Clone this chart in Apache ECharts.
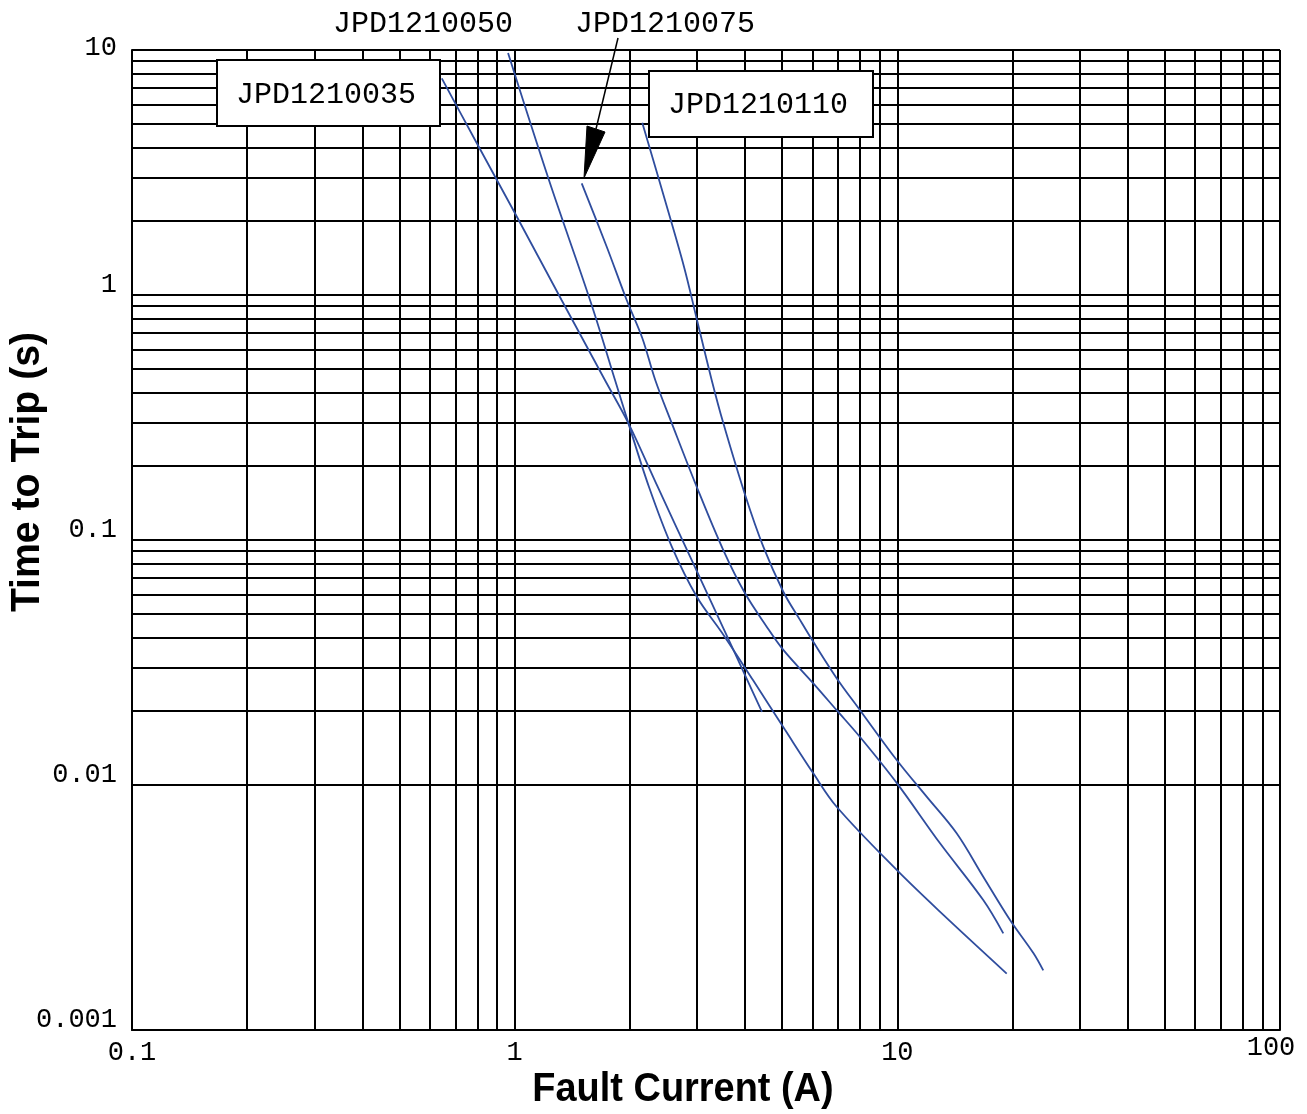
<!DOCTYPE html>
<html>
<head>
<meta charset="utf-8">
<script src="https://cdn.jsdelivr.net/npm/echarts@6/dist/echarts.min.js"></script>
<style>
html,body{margin:0;padding:0;background:#fff;}
#chart{width:1307px;height:1114px;}
</style>
</head>
<body>
<div id="chart"></div>
<script>
// ---- tick labels ----
const xTickLabels = ['0.1', '1', '10', '100'];
const yTickLabels = ['0.001', '0.01', '0.1', '1', '10'];
// ---- grid decades & minor multipliers ----
const xDecades = [0.1, 1, 10, 100];
const yDecades = [0.001, 0.01, 0.1, 1, 10];
const gridMultipliers = [1, 2, 3, 4, 5, 6, 7, 8, 9];

// ---- curve names ----
const curveNames = ['JPD1210035', 'JPD1210050', 'JPD1210075', 'JPD1210110'];

// ---- series values: current (A) vs time to trip (s) ----
const current035 = [0.645, 0.788, 1.006, 1.326, 1.496, 1.721, 1.982, 2.364, 2.900, 3.497, 4.055, 4.429];
const time035    = [7.66, 4.29, 2.13, 0.954, 0.674, 0.450, 0.300, 0.165, 0.0829, 0.0442, 0.0268, 0.0199];

const current050 = [0.961, 1.229, 1.583, 1.829, 1.982, 2.244, 2.577, 2.995, 3.482, 4.195, 5.087, 6.031, 6.941, 9.961, 13.19, 19.31];
const time050    = [9.72, 2.947, 0.928, 0.450, 0.300, 0.1646, 0.0936, 0.0585, 0.0418, 0.0268, 0.0168, 0.01116, 0.00815, 0.00450, 0.00295, 0.00170];

const current075 = [1.497, 1.740, 1.962, 2.155, 2.330, 2.573, 2.990, 3.509, 4.000, 4.556, 5.035, 6.031, 6.941, 7.989, 9.961, 12.93, 16.77, 18.92];
const time075    = [2.856, 1.574, 0.954, 0.668, 0.450, 0.300, 0.165, 0.0910, 0.0606, 0.0443, 0.0356, 0.0260, 0.0202, 0.0157, 0.0102, 0.00578, 0.00339, 0.00248];

const current110 = [2.155, 2.470, 2.770, 2.990, 3.272, 3.509, 4.000, 4.464, 5.035, 5.566, 6.031, 6.941, 7.989, 9.961, 11.93, 14.29, 16.77, 19.70, 22.67, 24.06];
const time110    = [5.05, 2.442, 1.305, 0.800, 0.450, 0.300, 0.153, 0.0939, 0.0615, 0.0472, 0.0384, 0.0273, 0.0202, 0.01265, 0.00896, 0.00635, 0.00422, 0.00281, 0.00206, 0.00175];

const curveCurrents = [current035, current050, current075, current110];
const curveTimes = [time035, time050, time075, time110];

const chart = echarts.init(document.getElementById('chart'), null, {renderer: 'canvas'});

function gridValues(decades) {
  const out = [];
  decades.forEach((d, i) => {
    if (i === decades.length - 1) { out.push(d); return; }
    gridMultipliers.forEach(m => out.push(d * m));
  });
  return out;
}

const gridLineData = [
  ...gridValues(xDecades).map(v => ({xAxis: v})),
  ...gridValues(yDecades).map(v => ({yAxis: v}))
];

const tickFont = 'Liberation Mono';
const labelFont = '30px "Liberation Mono"';
const titleFontY = 'bold 40px "Liberation Sans"';
const titleFontX = 'bold 41px "Liberation Sans"';

const curveSeries = curveNames.map((name, i) => ({
  name: name,
  type: 'line',
  data: curveCurrents[i].map((c, k) => [c, curveTimes[i][k]]),
  showSymbol: false,
  smooth: 0.35,
  z: 5,
  lineStyle: {color: '#2f4d9e', width: 1.8},
  animation: false
}));

const option = {
  backgroundColor: '#ffffff',
  animation: false,
  grid: {left: 132, top: 50, right: 27, bottom: 84, containLabel: false, outerBoundsMode: 'none'},
  xAxis: {
    type: 'log', logBase: 10, min: 0.1, max: 100,
    axisLine: {show: true, lineStyle: {color: '#000', width: 2}},
    axisTick: {show: false},
    splitLine: {show: false},
    axisLabel: {
      color: '#000', fontFamily: tickFont, fontSize: 27, margin: 9,
      formatter: v => {
        const i = Math.round(Math.log10(v)) + 1;
        const s = xTickLabels[i];
        return i === xTickLabels.length - 1 ? '{hi|' + s + '}' : s;
      },
      rich: {hi: {lineHeight: 17, padding: [0, 18, 0, 0]}}
    }
  },
  yAxis: {
    type: 'log', logBase: 10, min: 0.001, max: 10,
    axisLine: {show: true, lineStyle: {color: '#000', width: 2}},
    axisTick: {show: false},
    splitLine: {show: false},
    axisLabel: {
      color: '#000', fontFamily: tickFont, fontSize: 27, margin: 15,
      verticalAlign: 'bottom', lineHeight: 20,
      formatter: v => {
        const i = Math.round(Math.log10(v)) + 3;
        const s = yTickLabels[i];
        return i === yTickLabels.length - 1 ? '{lo|' + s + '}' : s;
      },
      rich: {lo: {lineHeight: 4}}
    }
  },
  series: [
    {
      name: 'grid',
      type: 'line',
      data: [],
      z: 1,
      silent: true,
      markLine: {
        silent: true,
        symbol: ['none', 'none'],
        label: {show: false},
        lineStyle: {color: '#000', width: 2, type: 'solid'},
        emphasis: {disabled: true},
        animation: false,
        data: gridLineData
      }
    },
    ...curveSeries
  ],
  graphic: [
    {type: 'text', x: 28, y: 472, rotation: Math.PI / 2, scaleX: 0.98, z: 100,
     style: {text: 'Time to Trip (s)', font: titleFontY, fill: '#000', align: 'center', verticalAlign: 'middle'}},
    {type: 'text', x: 683, y: 1090, scaleX: 0.925, z: 100,
     style: {text: 'Fault Current (A)', font: titleFontX, fill: '#000', align: 'center', verticalAlign: 'middle'}},
    {type: 'rect', z: 100, shape: {x: 217, y: 60, width: 223, height: 66},
     style: {fill: '#fff', stroke: '#000', lineWidth: 2}},
    {type: 'text', x: 236, y: 95, z: 101,
     style: {text: curveNames[0], font: labelFont, fill: '#000', align: 'left', verticalAlign: 'middle'}},
    {type: 'rect', z: 100, shape: {x: 649, y: 71, width: 224, height: 66},
     style: {fill: '#fff', stroke: '#000', lineWidth: 2}},
    {type: 'text', x: 668, y: 105, z: 101,
     style: {text: curveNames[3], font: labelFont, fill: '#000', align: 'left', verticalAlign: 'middle'}},
    {type: 'text', x: 333, y: 24, z: 101,
     style: {text: curveNames[1], font: labelFont, fill: '#000', align: 'left', verticalAlign: 'middle'}},
    {type: 'text', x: 575, y: 24, z: 101,
     style: {text: curveNames[2], font: labelFont, fill: '#000', align: 'left', verticalAlign: 'middle'}},
    {type: 'line', z: 100, shape: {x1: 618, y1: 38, x2: 596, y2: 129},
     style: {stroke: '#000', lineWidth: 1.5}},
    {type: 'polygon', z: 100, shape: {points: [[587, 126], [605, 132], [584, 178]]},
     style: {fill: '#000', stroke: '#000', lineWidth: 1}}
  ]
};

chart.setOption(option);
</script>
</body>
</html>
